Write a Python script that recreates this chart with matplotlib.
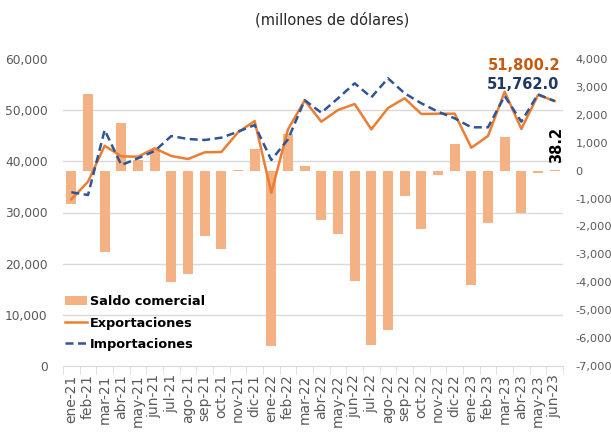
import matplotlib
matplotlib.use("Agg")
import matplotlib.pyplot as plt
from matplotlib.patches import Patch
from matplotlib.lines import Line2D

months = ["ene-21", "feb-21", "mar-21", "abr-21", "may-21", "jun-21", "jul-21", "ago-21",
          "sep-21", "oct-21", "nov-21", "dic-21", "ene-22", "feb-22", "mar-22", "abr-22",
          "may-22", "jun-22", "jul-22", "ago-22", "sep-22", "oct-22", "nov-22", "dic-22",
          "ene-23", "feb-23", "mar-23", "abr-23", "may-23", "jun-23"]

exportaciones = [32580, 36020, 43050, 40980, 40900, 42540, 41040, 40450, 41760, 41820,
                 45670, 47880, 33870, 46260, 51900, 47750, 50030, 51200, 46260, 50420,
                 52320, 49250, 49310, 49310, 42660, 44950, 53600, 46320, 52960, 51800.2]

importaciones = [33950, 33420, 46120, 39280, 40590, 42020, 44950, 44360, 44170, 44620,
                 45790, 47100, 40260, 44300, 51950, 49500, 52320, 55250, 52510, 56220,
                 53290, 51340, 49700, 48400, 46650, 46650, 52770, 47750, 53100, 51762.0]

saldo = [-1180, 2730, -2930, 1690, 380, 730, -3990, -3720, -2340, -2800,
         40, 770, -6280, 1330, 150, -1770, -2280, -3960, -6250, -5720,
         -900, -2100, -140, 970, -4110, -1870, 1190, -1500, -80, 38.2]

left_ticks = [0, 10000, 20000, 30000, 40000, 50000, 60000]
right_ticks = [-7000, -6000, -5000, -4000, -3000, -2000, -1000, 0, 1000, 2000, 3000, 4000]

BAR = "#F4B183"
ORANGE = "#ED7D31"
BLUE = "#2F5597"
GRAY = "#595959"
FONT = "DejaVu Sans"
plt.rcParams["font.family"] = [FONT]

fig = plt.figure(figsize=(6.11, 4.34), dpi=100)
ax = fig.add_axes([63/611, 1-366/434, 500/611, 307/434])
ax2 = ax.twinx()

x = list(range(len(months)))

# bars on secondary axis
ax2.bar(x, saldo, width=0.6, color=BAR, zorder=2)
ax2.set_ylim(-7000, 4000)
ax2.set_yticks(right_ticks)
ax2.set_yticklabels([f"{v:,}" for v in right_ticks], color=GRAY, fontsize=8.2)
ax2.tick_params(axis="y", length=0, pad=9)

# gridlines at primary-axis tick positions, drawn behind bars
ax.set_ylim(0, 60000)
grid_pos = [ax2.transData.inverted().transform(ax.transData.transform((0, v)))[1] for v in left_ticks]
ax2.set_yticks(grid_pos, minor=True)
ax2.tick_params(axis="y", which="minor", length=0)
ax2.grid(which="minor", axis="y", color="#D9D9D9", linewidth=1.0, zorder=0)
ax2.set_axisbelow(True)

# lines on primary axis, on top
ax.set_zorder(ax2.get_zorder() + 1)
ax.patch.set_visible(False)
ax.plot(x, exportaciones, color=ORANGE, linewidth=1.8, zorder=3)
ax.plot(x, importaciones, color=BLUE, linewidth=1.8, linestyle=(0, (3.2, 1.8)), zorder=4)
ax.set_yticks(left_ticks)
ax.set_yticklabels([f"{v:,}" for v in left_ticks], color=GRAY, fontsize=8.8)
ax.tick_params(axis="y", length=0, pad=11)

ax.set_xlim(-0.5, len(months) - 0.5)
ax.set_xticks(x)
ax.set_xticklabels(months, rotation=90, fontsize=10, color=GRAY)
ax.set_xticks([i - 0.5 for i in range(len(months) + 1)], minor=True)
ax.tick_params(axis="x", which="major", length=0, pad=6)
ax.tick_params(axis="x", which="minor", length=6, color="#D9D9D9")

for a in (ax, ax2):
    for s in ("top", "left", "right", "bottom"):
        a.spines[s].set_visible(False)
ax.spines["bottom"].set_visible(True)
ax.spines["bottom"].set_color("#D9D9D9")

# annotations
n = len(months) - 1
ax.annotate(f"{exportaciones[n]:,.1f}", xy=(n, exportaciones[n]), xytext=(6, 35),
            textcoords="offset pixels", ha="right", va="center", color="#C55A11",
            fontsize=10.5, fontweight="bold")
ax.annotate(f"{importaciones[n]:,.1f}", xy=(n, importaciones[n]), xytext=(5, 17),
            textcoords="offset pixels", ha="right", va="center", color="#203864",
            fontsize=10.5, fontweight="bold")
ax2.annotate(f"{saldo[n]:.1f}", xy=(n, saldo[n]), xytext=(2, 7),
             textcoords="offset pixels", ha="center", va="bottom", rotation=90,
             color="black", fontsize=10.5, fontweight="bold")

# title
fig.text(332/611, 1-20/434, "(millones de dólares)", ha="center", va="center",
         fontsize=10.5, color="#262626")

handles = [Patch(facecolor=BAR, edgecolor="none"),
           Line2D([], [], color=ORANGE, linewidth=1.8),
           Line2D([], [], color=BLUE, linewidth=1.8, linestyle=(0, (3.2, 1.8)))]
labels = ["Saldo comercial", "Exportaciones", "Importaciones"]
leg = ax.legend(handles, labels, loc="upper left", bbox_to_anchor=(60/611, 1-290/434),
                bbox_transform=fig.transFigure, frameon=False, handlelength=1.7,
                handletextpad=0.25, labelspacing=0.65, borderaxespad=0,
                prop={"weight": "bold", "size": 9.3})

fig.savefig("out.png", dpi=100)
